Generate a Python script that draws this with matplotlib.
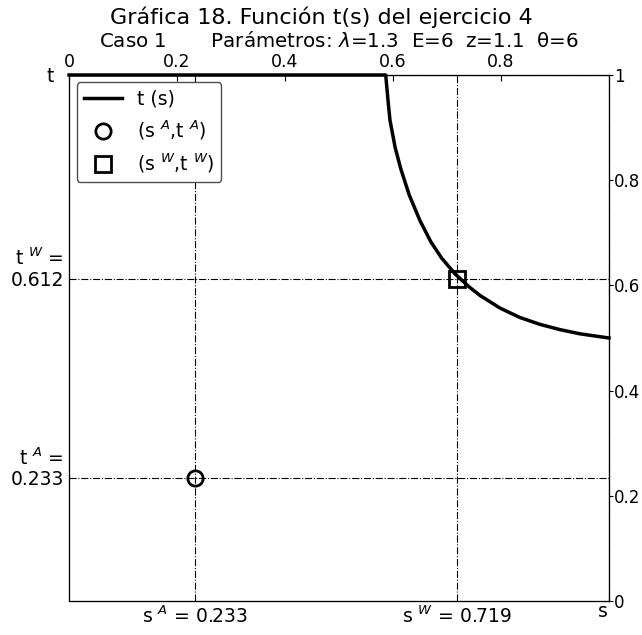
import matplotlib.pyplot as plt
from matplotlib.transforms import ScaledTranslation

s_vals = [0.0, 0.5865, 0.5907, 0.5944, 0.604, 0.6143, 0.630, 0.650, 0.670, 0.690,
          0.7148, 0.740, 0.761, 0.798, 0.835, 0.872, 0.909, 0.946, 1.0]
t_vals = [1.0, 1.0, 0.952, 0.914, 0.862, 0.822, 0.772, 0.723, 0.683, 0.652,
          0.622, 0.598, 0.581, 0.557, 0.539, 0.526, 0.516, 0.508, 0.500]

# Puntos A y W
sA, tA = 0.233, 0.233
sW, tW = 0.719, 0.612

top_ticks = [0, 0.2, 0.4, 0.6, 0.8]
right_ticks = [0, 0.2, 0.4, 0.6, 0.8, 1]

fig = plt.figure(figsize=(6.42, 6.35), dpi=100)
ax = fig.add_axes([0.1075, 0.0535, 0.8411, 0.8284])

ax.plot(s_vals, t_vals, 'k-', lw=2.5, label='t (s)', clip_on=False, zorder=5)
ax.plot(sA, tA, 'o', ms=11, mfc='none', mec='k', mew=2, label='(s $^{A}$,t $^{A}$)', zorder=6)
ax.plot(sW, tW, 's', ms=11, mfc='none', mec='k', mew=2, label='(s $^{W}$,t $^{W}$)', zorder=6)

ax.set_xlim(0, 1)
ax.set_ylim(0, 1)

# ejes inferior e izquierdo con los valores de A y W
ax.set_xticks([sA, sW, 1])
ax.set_xticklabels(['s $^{A}$ = %.3f' % sA, 's $^{W}$ = %.3f' % sW, 's'], fontsize=13.5)
ax.set_yticks([tA, tW, 1])
ax.set_yticklabels(['t $^{A}$ =\n%.3f' % tA, 't $^{W}$ =\n%.3f' % tW, 't'], fontsize=13.5,
                   linespacing=1.1)
ax.tick_params(length=0)
ax.grid(True, color='k', ls='-.', lw=0.8)

# desplazar un poco las etiquetas
for lab in ax.get_yticklabels()[:2]:
    lab.set_transform(lab.get_transform() + ScaledTranslation(0, 0.13, fig.dpi_scale_trans))
lab_t = ax.get_yticklabels()[2]
lab_t.set_transform(lab_t.get_transform() + ScaledTranslation(-0.1, 0, fig.dpi_scale_trans))
lab_s = ax.get_xticklabels()[2]
lab_s.set_transform(lab_s.get_transform() + ScaledTranslation(-0.06, 0.04, fig.dpi_scale_trans))

# ejes superior y derecho con la escala normal
ax_top = ax.twiny()
ax_top.set_xlim(0, 1)
ax_top.set_xticks(top_ticks)
ax_top.set_xticklabels(['%g' % v for v in top_ticks], fontsize=12.5)
ax_top.tick_params(direction='in', length=4, pad=3)
ax_top.set_xlabel('Caso 1       Parámetros: $\\lambda$=1.3  E=6  z=1.1  θ=6', fontsize=14.3, labelpad=4)

ax_right = ax.twinx()
ax_right.set_ylim(0, 1)
ax_right.set_yticks(right_ticks)
ax_right.set_yticklabels(['%g' % v for v in right_ticks], fontsize=12)
ax_right.tick_params(direction='out', length=3, pad=0.5)

fig.suptitle('Gráfica 18. Función t(s) del ejercicio 4', fontsize=16, y=0.99)

leg = ax.legend(loc='upper left', fontsize=13.5, numpoints=1, fancybox=True, framealpha=1,
                edgecolor='0.3', borderaxespad=0.4)
leg.set_zorder(10)

fig.savefig('out.png', dpi=100)
